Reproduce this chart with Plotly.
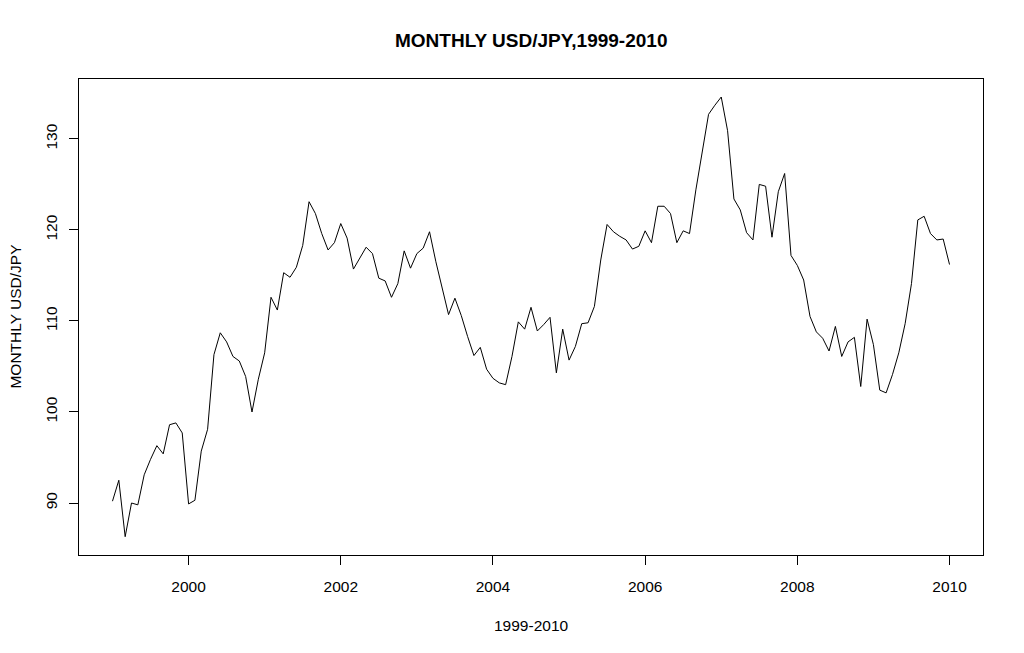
import plotly.graph_objects as go

start_year = 1999
months_per_year = 12
usd_jpy = [
    90.2, 92.5, 86.3, 90.0, 89.8, 93.1, 94.8, 96.3, 95.4, 98.6, 98.8, 97.7,
    89.9, 90.3, 95.7, 98.1, 106.3, 108.7, 107.7, 106.1, 105.6, 103.9, 100.0, 103.6,
    106.5, 112.6, 111.2, 115.3, 114.8, 115.9, 118.3, 123.1, 121.8, 119.6, 117.8, 118.6,
    120.7, 119.1, 115.7, 116.9, 118.1, 117.4, 114.7, 114.4, 112.6, 114.1, 117.7, 115.8,
    117.4, 118.0, 119.8, 116.5, 113.6, 110.7, 112.5, 110.6, 108.3, 106.2, 107.1, 104.7,
    103.7, 103.2, 103.0, 106.1, 109.9, 109.1, 111.5, 108.9, 109.6, 110.4, 104.3, 109.1,
    105.7, 107.2, 109.7, 109.8, 111.6, 116.7, 120.6, 119.8, 119.3, 118.9, 117.9, 118.2,
    119.9, 118.6, 122.6, 122.6, 121.8, 118.6, 119.9, 119.6, 124.4, 128.8, 132.7, 133.7,
    134.6, 130.9, 123.4, 122.2, 119.7, 118.9, 125.0, 124.8, 119.2, 124.2, 126.2, 117.2,
    116.1, 114.5, 110.5, 108.8, 108.1, 106.7, 109.4, 106.1, 107.7, 108.2, 102.8, 110.2,
    107.4, 102.4, 102.1, 104.1, 106.5, 109.7, 114.1, 121.1, 121.5, 119.6, 118.9, 119.0,
    116.2,
]
x_ticks = [2000, 2002, 2004, 2006, 2008, 2010]
y_ticks = [90, 100, 110, 120, 130]

time = [start_year + i / months_per_year for i in range(len(usd_jpy))]

FONT = "Liberation Sans, Arial, sans-serif"

# the page body has an 8px margin; size the figure to sit inside 1024x653
W, H = 1008, 637
ML, MT, MR, MB = 70.5, 70.5, 32.5, 89.7
plot_w = W - ML - MR
plot_h = H - MT - MB

fig = go.Figure()
fig.add_trace(go.Scatter(x=time, y=usd_jpy, mode="lines",
                         line=dict(color="black", width=1), hoverinfo="skip"))

axis_common = dict(showline=True, linecolor="black", linewidth=1, mirror=True,
                   ticks="outside", ticklen=9, tickcolor="black", tickwidth=1,
                   showgrid=False, zeroline=False,
                   tickfont=dict(family=FONT, size=15.5, color="black"))

fig.update_layout(
    width=W, height=H,
    margin=dict(l=ML, r=MR, t=MT, b=MB),
    paper_bgcolor="white", plot_bgcolor="white",
    showlegend=False,
    xaxis=dict(range=[1998.56, 2010.44], tickvals=x_ticks,
               ticktext=[str(v) for v in x_ticks], ticklabelstandoff=8, **axis_common),
    yaxis=dict(range=[84.29, 136.58], tickvals=y_ticks,
               ticktext=[str(v) for v in y_ticks], tickangle=-90,
               ticklabelstandoff=6, **axis_common),
    annotations=[
        dict(text="<b>MONTHLY USD/JPY,1999-2010</b>", x=0.5, y=1 + 38.5 / plot_h,
             xref="paper", yref="paper", yanchor="middle", showarrow=False,
             font=dict(family=FONT, size=19, color="black")),
        dict(text="1999-2010", xref="paper", yref="paper", x=0.5,
             y=-(626 - 555.3) / plot_h, yanchor="middle", showarrow=False,
             font=dict(family=FONT, size=15.5, color="black")),
        dict(text="MONTHLY USD/JPY", xref="paper", yref="paper",
             x=-(78.5 - 14) / plot_w, xanchor="center", y=0.5,
             textangle=-90, showarrow=False,
             font=dict(family=FONT, size=15.5, color="black")),
    ],
)

fig.write_html("out.html")
